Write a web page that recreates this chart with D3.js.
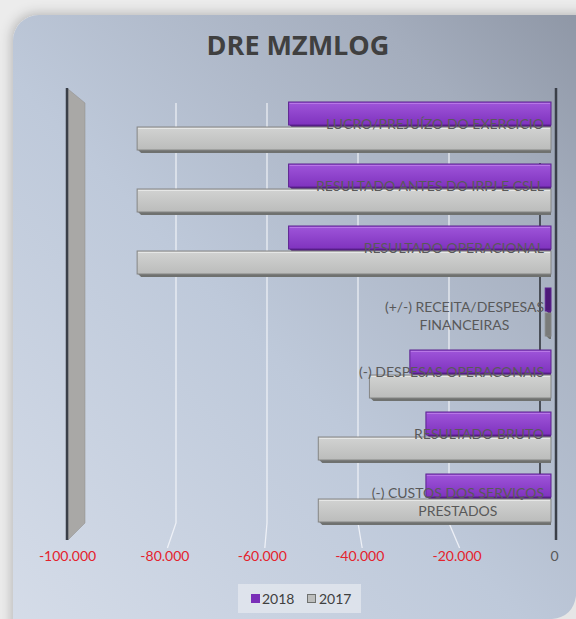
<!DOCTYPE html>
<html><head><meta charset="utf-8">
<script src="https://cdn.jsdelivr.net/npm/d3@7"></script>
<style>html,body{margin:0;padding:0;background:#ececec;}svg{display:block;}</style>
</head><body>
<svg id="chart" width="576" height="619"></svg>
<script>
const categories = ["LUCRO/PREJUÍZO DO EXERCICIO","RESULTADO ANTES DO IRPJ E CSLL","RESULTADO OPERACIONAL","(+/-) RECEITA/DESPESAS FINANCEIRAS","(-) DESPESAS OPERACONAIS","RESULTADO BRUTO","(-) CUSTOS DOS SERVIÇOS PRESTADOS"];
const labelLines = [["LUCRO/PREJUÍZO DO EXERCICIO"],["RESULTADO ANTES DO IRPJ E CSLL"],["RESULTADO OPERACIONAL"],["(+/-) RECEITA/DESPESAS","FINANCEIRAS"],["(-) DESPESAS OPERACONAIS"],["RESULTADO BRUTO"],["(-) CUSTOS DOS SERVIÇOS","PRESTADOS"]];
const series = ["2018","2017"];
const values2018 = [-54500,-54500,-54500,-1800,-29600,-26300,-26300];
const values2017 = [-85600,-85600,-85600,-1800,-37900,-48400,-48400];
const tickValues = [-100000,-80000,-60000,-40000,-20000,0];
const title = "DRE MZMLOG";

const svg = d3.select("#chart");
const defs = svg.append("defs");

// background
const bg = defs.append("linearGradient").attr("id","bg").attr("x1",0).attr("y1",1).attr("x2",1).attr("y2",0);
bg.append("stop").attr("offset",0).attr("stop-color","#d6dde9");
bg.append("stop").attr("offset",0.45).attr("stop-color","#bec9da");
bg.append("stop").attr("offset",0.8).attr("stop-color","#a4adbd");
bg.append("stop").attr("offset",1).attr("stop-color","#8b93a2");
const sh = defs.append("filter").attr("id","shadow").attr("x","-10%").attr("y","-10%").attr("width","120%").attr("height","120%");
sh.append("feGaussianBlur").attr("in","SourceAlpha").attr("stdDeviation",6);
sh.append("feOffset").attr("dx",-2).attr("dy",-2).attr("result","b");
sh.append("feFlood").attr("flood-color","#000").attr("flood-opacity",0.22);
sh.append("feComposite").attr("in2","b").attr("operator","in");
const m = sh.append("feMerge"); m.append("feMergeNode"); m.append("feMergeNode").attr("in","SourceGraphic");

svg.append("rect").attr("x",13).attr("y",15).attr("width",600).attr("height",640).attr("rx",26)
  .attr("fill","url(#bg)").attr("filter","url(#shadow)");
svg.append("path").attr("d","M576,596 Q573,617 552,619 L576,619 Z").attr("fill","#e6e6e6");

const gp = defs.append("linearGradient").attr("id","gPurple").attr("x1",0).attr("y1",0).attr("x2",0).attr("y2",1);
gp.append("stop").attr("offset",0).attr("stop-color","#9f55da");
gp.append("stop").attr("offset",1).attr("stop-color","#7f33be");
const gg = defs.append("linearGradient").attr("id","gGray").attr("x1",0).attr("y1",0).attr("x2",0).attr("y2",1);
gg.append("stop").attr("offset",0).attr("stop-color","#d2d3d2");
gg.append("stop").attr("offset",1).attr("stop-color","#bbbcbb");

// title
svg.append("text").attr("x",298).attr("y",55).attr("text-anchor","middle")
  .attr("font-family","Open Sans, sans-serif").attr("font-weight","bold").attr("font-size",27)
  .attr("fill","#404040").text(title);

// scales
const xFront = d3.scaleLinear().domain([-100000,0]).range([67,554]);
const xBack = d3.scaleLinear().domain([-100000,0]).range([85,540]);
const y = d3.scaleBand().domain(categories).range([102,102+62*7]).padding(0);
const ys = d3.scaleBand().domain(series).range([0,50]).padding(0);
const backTop = 103, backBot = 523, frontTop = 88, frontBot = 540;

// left side wall
svg.append("path").attr("d",`M${xFront(-100000)+1},${frontTop+1} L${xBack(-100000)},${backTop} L${xBack(-100000)},${backBot} L${xFront(-100000)+1},${frontBot}Z`)
  .attr("fill","#a9a8a6").attr("stroke","#8e8d8b").attr("stroke-width",0.5);
svg.append("line").attr("x1",xFront(-100000)).attr("x2",xFront(-100000)).attr("y1",frontTop).attr("y2",frontBot)
  .attr("stroke","#3a3f48").attr("stroke-width",2.5);

// gridlines (back wall + floor)
const grid = svg.append("g");
tickValues.slice(1,5).forEach(v=>{
  grid.append("path").attr("d",`M${xBack(v)},${backTop} L${xBack(v)},${backBot} L${xFront(v)+3},${frontBot+8}`)
    .attr("fill","none").attr("stroke","#f4f6fa").attr("stroke-width",1.3).attr("opacity",0.85);
});
// back right edge
svg.append("line").attr("x1",xBack(0)).attr("x2",xBack(0)).attr("y1",backTop+60).attr("y2",backBot)
  .attr("stroke","#4a4f58").attr("stroke-width",2);

// bars
const data = [];
categories.forEach((c,i)=>{
  data.push({cat:c, s:"2018", v:values2018[i]});
  data.push({cat:c, s:"2017", v:values2017[i]});
});
const bars = svg.append("g");
data.forEach(d=>{
  const x0 = xFront(d.v), x1 = xFront(0)-3;
  const top = y(d.cat)+ys(d.s), h = ys.bandwidth();
  const purple = d.s==="2018";
  const narrow = (x1-x0) < 15;
  const g = bars.append("g");
  g.append("path").attr("d",`M${x0},${top+h-3} L${x0+4},${top+h+1} L${x1},${top+h+1} L${x1},${top+h-3}Z`)
    .attr("fill",purple?"#4e1a7a":"#6f716f");
  g.append("rect").attr("x",x0).attr("y",top).attr("width",Math.max(1,x1-x0)).attr("height",h-2)
    .attr("fill",narrow?(purple?"#4c1a78":"#7a7b7a"):(purple?"url(#gPurple)":"url(#gGray)"))
    .attr("stroke",purple?"#5c2390":"#858685").attr("stroke-width",1);
  if(!narrow) g.append("line").attr("x1",x0+1).attr("x2",x1-1).attr("y1",top+1.5).attr("y2",top+1.5)
    .attr("stroke",purple?"#b777e6":"#e6e7e6").attr("stroke-width",1);
});

// front right axis line
svg.append("line").attr("x1",556).attr("x2",556).attr("y1",frontTop).attr("y2",frontBot)
  .attr("stroke","#3a3f48").attr("stroke-width",2.5);

// category labels
const lab = svg.append("g").attr("font-family","Lato, Open Sans, sans-serif").attr("font-size",14).attr("fill","#595959");
categories.forEach((c,i)=>{
  const lines = labelLines[i];
  const mid = y(c)+25;
  if(lines.length===1){
    lab.append("text").attr("x",544).attr("y",mid+2).attr("text-anchor","end").text(lines[0]);
  } else {
    const t = lab.append("text").attr("x",544).attr("y",mid-1).attr("text-anchor","end").text(lines[0]);
    const w = t.node().getComputedTextLength();
    t.attr("x",544-w/2).attr("text-anchor","middle");
    lab.append("text").attr("x",544-w/2).attr("y",mid+17).attr("text-anchor","middle").text(lines[1]);
  }
});

// axis labels
const loc = d3.formatLocale({decimal:",",thousands:".",grouping:[3],currency:["R$",""],minus:"-"});
const fmt = loc.format(",.0f");
const axis = d3.axisBottom(xFront).tickValues(tickValues).tickFormat(fmt).tickSize(0).tickPadding(0);
const ag = svg.append("g").attr("transform","translate(0,551)").call(axis);
ag.select(".domain").remove();
ag.selectAll("text").attr("font-family","Lato, Open Sans, sans-serif").attr("font-size",14)
  .attr("fill",d=>d===0?"#595959":"#e4222c").attr("dy","0.71em");

// legend
const lg = svg.append("g");
lg.append("rect").attr("x",238).attr("y",584).attr("width",123).attr("height",29).attr("fill","#e4e8ef").attr("opacity",0.75);
lg.append("rect").attr("x",251).attr("y",594).attr("width",9).attr("height",9).attr("fill","#7a2fb8");
lg.append("text").attr("x",262).attr("y",604).attr("font-family","Lato, Open Sans, sans-serif").attr("font-size",14).attr("fill","#404040").text(series[0]);
lg.append("rect").attr("x",307.5).attr("y",594.5).attr("width",8).attr("height",8).attr("fill","#bdbebd").attr("stroke","#6f716f");
lg.append("text").attr("x",319).attr("y",604).attr("font-family","Lato, Open Sans, sans-serif").attr("font-size",14).attr("fill","#404040").text(series[1]);
</script>
</body></html>
